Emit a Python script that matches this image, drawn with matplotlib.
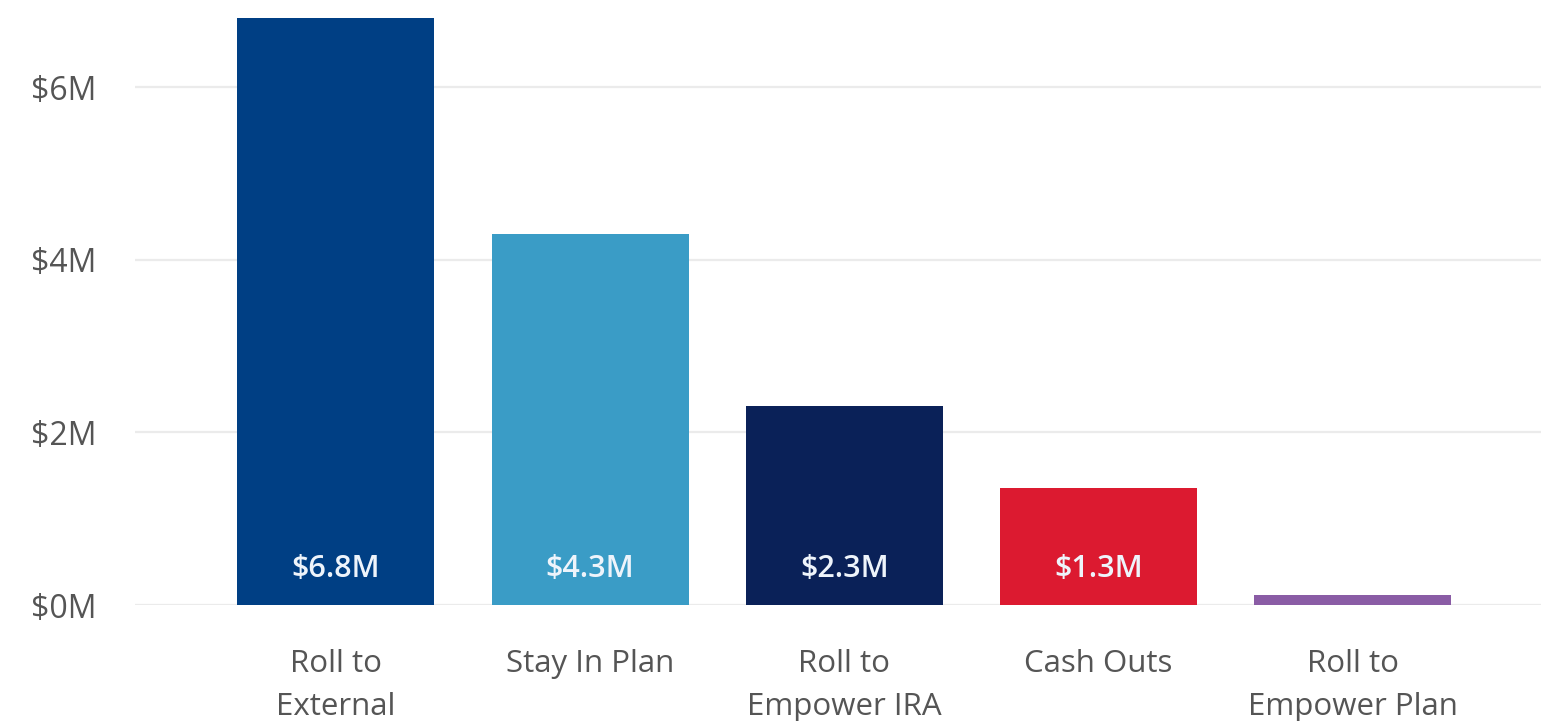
import matplotlib

matplotlib.use("Agg")
import matplotlib.pyplot as plt  # noqa: E402

plt.rcParams["font.family"] = ["Open Sans", "DejaVu Sans"]

categories = ["Roll to\nExternal", "Stay In Plan", "Roll to\nEmpower IRA", "Cash Outs", "Roll to\nEmpower Plan"]
values_m = [6.8, 4.3, 2.3, 1.35, 0.12]
value_labels = ["$6.8M", "$4.3M", "$2.3M", "$1.3M", ""]
colors = ["#003f84", "#3a9cc6", "#0a2158", "#dc1a30", "#8a5ca5"]
yticks = [0, 2, 4, 6]
ytick_labels = ["$0M", "$2M", "$4M", "$6M"]

fig = plt.figure(figsize=(15.41, 7.21), dpi=100)
ax = fig.add_axes([135 / 1541, 1 - 605 / 721, 1 - 135 / 1541, (605 - 18) / 721])

x = list(range(len(categories)))
ax.bar(x, values_m, width=0.775, color=colors, zorder=3)
for xi, lab in zip(x, value_labels):
    if lab:
        ax.text(xi, 0.42, lab, ha="center", va="center", fontsize=22, fontweight="semibold",
                color="#eef4fb", zorder=4)

ax.set_xlim(-0.79, 4.74)
ax.set_ylim(0, 6.8)
ax.set_yticks(yticks)
ax.set_yticklabels(ytick_labels, fontsize=23, color="#555555")
ax.set_xticks(x)
ax.set_xticklabels(categories, fontsize=22.5, color="#555555", linespacing=1.55)
ax.tick_params(axis="y", length=0, pad=28)
ax.tick_params(axis="x", length=0, pad=32)
ax.grid(axis="y", color="#ebebeb", linewidth=1.6, zorder=0)
ax.set_axisbelow(True)
for s in ("top", "right", "bottom", "left"):
    ax.spines[s].set_visible(False)

fig.savefig("out.png", dpi=100, facecolor="white")
